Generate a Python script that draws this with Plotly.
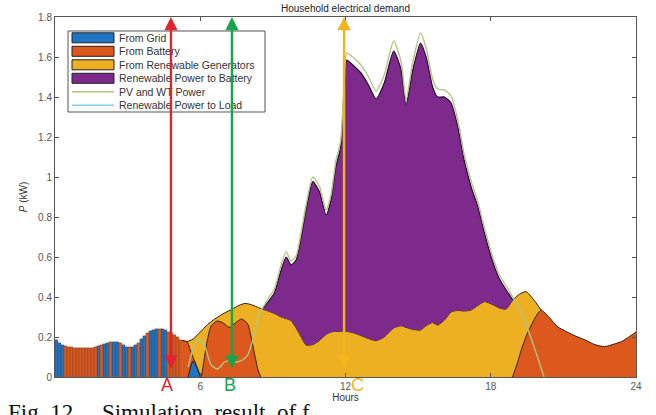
import plotly.graph_objects as go

# ---------------- data ----------------
night_hours = [0.0625, 0.1875, 0.3125, 0.4375, 0.5625, 0.6875, 0.8125, 0.9375,
               1.0625, 1.1875, 1.3125, 1.4375, 1.5625, 1.6875, 1.8125, 1.9375,
               2.0625, 2.1875, 2.3125, 2.4375, 2.5625, 2.6875, 2.8125, 2.9375,
               3.0625, 3.1875, 3.3125, 3.4375, 3.5625, 3.6875, 3.8125, 3.9375,
               4.0625, 4.1875, 4.3125, 4.4375, 4.5625, 4.6875, 4.8125, 4.9375,
               5.0625, 5.1875]
night_load = [0.183, 0.172, 0.162, 0.155, 0.150, 0.148, 0.147, 0.146,
              0.146, 0.146, 0.145, 0.145, 0.146, 0.149, 0.154, 0.160,
              0.166, 0.172, 0.176, 0.177, 0.174, 0.168, 0.160, 0.152,
              0.148, 0.150, 0.158, 0.172, 0.190, 0.207, 0.220, 0.229,
              0.235, 0.239, 0.240, 0.238, 0.233, 0.226, 0.218, 0.208,
              0.198, 0.187]
night_source = list("GGGBBBBBBBBBBBGBGGBGGBGGBGGBGGBGGGBGGBBBBB")

load_morning_hours = [5.25, 5.45, 5.7, 6.0, 6.3, 6.6, 7.0, 7.3, 7.6, 7.85, 8.1, 8.35]
load_morning = [0.182, 0.177, 0.19, 0.225, 0.262, 0.29, 0.32, 0.338, 0.358, 0.368, 0.362, 0.35]

day_hours = [8.6, 8.8, 9.06, 9.34, 9.55, 9.75, 9.96, 10.17, 10.37, 10.65, 10.92,
             11.2, 11.4, 11.6, 11.8, 11.95, 12.05, 12.3, 12.64, 12.95, 13.26, 13.6,
             13.99, 14.3, 14.5, 14.78, 15.1, 15.33, 15.6, 15.8, 16.09, 16.36,
             16.64, 16.9, 17.19, 17.47, 17.74, 18.08, 18.36, 18.64, 18.91]
day_load = [0.338, 0.33, 0.318, 0.30, 0.292, 0.282, 0.245, 0.20, 0.16, 0.162, 0.182,
            0.213, 0.225, 0.228, 0.228, 0.228, 0.228, 0.222, 0.207, 0.192, 0.182, 0.20,
            0.245, 0.256, 0.248, 0.238, 0.235, 0.257, 0.272, 0.26, 0.285, 0.325,
            0.333, 0.33, 0.335, 0.358, 0.377, 0.362, 0.345, 0.34, 0.385]
day_to_battery_top = [0.345, 0.375, 0.42, 0.535, 0.60, 0.56, 0.585, 0.70, 0.835, 0.977, 0.927,
                      0.81, 0.885, 1.05, 1.15, 1.45, 1.585, 1.56, 1.52, 1.46, 1.39, 1.47,
                      1.63, 1.535, 1.36, 1.535, 1.67, 1.60, 1.45, 1.40, 1.40, 1.37,
                      1.25, 1.085, 0.95, 0.85, 0.72, 0.577, 0.49, 0.435, 0.385]
day_pv = [0.35, 0.39, 0.44, 0.56, 0.627, 0.58, 0.605, 0.725, 0.86, 1.0, 0.955,
          0.835, 0.91, 1.08, 1.18, 1.48, 1.62, 1.60, 1.56, 1.50, 1.43, 1.51,
          1.68, 1.575, 1.385, 1.575, 1.72, 1.645, 1.49, 1.44, 1.435, 1.405,
          1.285, 1.115, 0.98, 0.875, 0.745, 0.60, 0.51, 0.455, 0.40]

load_evening_hours = [19.2, 19.46, 19.75, 20.08]
load_evening = [0.415, 0.427, 0.39, 0.335]

pv_morning_hours = [5.5, 5.65, 5.83, 6.0, 6.2, 6.45, 6.72, 7.0, 7.25, 7.48, 7.75, 7.96, 8.17, 8.44]
pv_morning = [0.05, 0.12, 0.177, 0.19, 0.15, 0.06, 0.04, 0.075, 0.08, 0.075, 0.085, 0.11, 0.185, 0.32]
pv_evening_hours = [19.26, 19.6, 19.88, 20.2]
pv_evening = [0.318, 0.218, 0.118, 0.0]

ren_to_load_hours = [5.35, 5.5, 5.65, 5.8]
ren_to_load = [0.0, 0.05, 0.12, 0.17]

battery_morning_hours = [5.25, 5.45, 5.6, 5.75, 5.9, 6.03, 6.15, 6.3, 6.45, 6.7, 6.95,
                         7.2, 7.45, 7.7, 7.95, 8.1, 8.25, 8.4, 8.5]
battery_morning = [0.182, 0.177, 0.13, 0.085, 0.04, 0.0, 0.08, 0.19, 0.255, 0.28, 0.27,
                   0.248, 0.27, 0.29, 0.268, 0.2, 0.11, 0.03, 0.0]

grid_dawn_hours = [5.5, 5.7, 5.85, 6.0]
grid_dawn = [0.0, 0.08, 0.05, 0.0]

battery_evening_hours = [18.9, 19.1, 19.3, 19.5, 19.7, 19.9, 20.08, 20.4, 20.77, 21.05,
                         21.4, 21.9, 22.3, 22.7, 23.1, 23.4, 23.7, 24.0]
battery_evening = [0.0, 0.07, 0.15, 0.215, 0.265, 0.31, 0.335, 0.30, 0.25, 0.232,
                   0.21, 0.185, 0.162, 0.152, 0.165, 0.177, 0.2, 0.225]

arrow_hours = [4.79, 7.31, 11.94]
arrow_labels = ["A", "B", "C"]
arrow_label_hours = [4.62, 7.22, 12.48]
arrow_colors = ["#e0232e", "#17a44b", "#f2b51c"]

x_ticks = [0, 6, 12, 18, 24]
x_ticklabels = ["", "6", "12", "18", "24"]
y_ticks = [0, 0.2, 0.4, 0.6, 0.8, 1.0, 1.2, 1.4, 1.6, 1.8]
y_ticklabels = ["0", "0.2", "0.4", "0.6", "0.8", "1", "1.2", "1.4", "1.6", "1.8"]

legend_labels = ["From Grid", "From Battery", "From Renewable Generators",
                 "Renewable Power to Battery", "PV and WT Power", "Renewable Power to Load"]
legend_kinds = ["patch", "patch", "patch", "patch", "line", "line"]

caption_text = "Fig. 12.&nbsp;&nbsp;&nbsp; Simulation&nbsp; result&nbsp; of f"

# ---------------- styling ----------------
BLUE = "#1f74c4"
ORANGE = "#dc581c"
YELLOW = "#eeb023"
PURPLE = "#7d2a8c"
PV_COL = "#b2c684"
RL_COL = "#7fd2ea"
EDGE = "#2e2010"
FONT = "Liberation Sans, Arial, sans-serif"
SPL = dict(shape="spline", smoothing=0.6)
legend_colors = [BLUE, ORANGE, YELLOW, PURPLE, PV_COL, RL_COL]

# plot area in pixels (for the hand-made MATLAB-like legend)
W, H = 656, 415
ML, MR, MT, MB = 55, 20, 17, 38
PW, PH = W - ML - MR, H - MT - MB


def px(xp):
    return (xp - ML) / PW


def py(yp):
    return (H - MB - yp) / PH


fig = go.Figure()

fig.add_trace(go.Scatter(x=ren_to_load_hours, y=ren_to_load, mode="lines",
                         line=dict(color=RL_COL, width=1.5, **SPL), showlegend=False))

yellow_x = load_morning_hours + day_hours + load_evening_hours
yellow_y = load_morning + day_load + load_evening
fig.add_trace(go.Scatter(x=yellow_x, y=yellow_y, mode="lines", fill="tozeroy",
                         fillcolor=YELLOW, line=dict(color=EDGE, width=1, **SPL), showlegend=False))

gx = [h for h, s in zip(night_hours, night_source) if s == "G"]
gy = [v for v, s in zip(night_load, night_source) if s == "G"]
bx = [h for h, s in zip(night_hours, night_source) if s == "B"]
by = [v for v, s in zip(night_load, night_source) if s == "B"]
fig.add_trace(go.Bar(x=gx, y=gy, width=0.125, showlegend=False,
                     marker=dict(color=BLUE, line=dict(color="#1a1a1a", width=0.3))))
fig.add_trace(go.Bar(x=bx, y=by, width=0.125, showlegend=False,
                     marker=dict(color=ORANGE, line=dict(color="#3a1a08", width=0.3))))

fig.add_trace(go.Scatter(x=battery_morning_hours, y=battery_morning, mode="lines", fill="tozeroy",
                         fillcolor=ORANGE, line=dict(color=EDGE, width=1, **SPL), showlegend=False))
fig.add_trace(go.Scatter(x=grid_dawn_hours, y=grid_dawn, mode="lines", fill="tozeroy",
                         fillcolor=BLUE, line=dict(color=EDGE, width=1, **SPL), showlegend=False))
fig.add_trace(go.Scatter(x=battery_evening_hours, y=battery_evening, mode="lines", fill="tozeroy",
                         fillcolor=ORANGE, line=dict(color=EDGE, width=1, **SPL), showlegend=False))

fig.add_trace(go.Scatter(x=day_hours, y=day_load, mode="lines",
                         line=dict(color="rgba(0,0,0,0)", width=0, **SPL),
                         showlegend=False, hoverinfo="skip"))
fig.add_trace(go.Scatter(x=day_hours, y=day_to_battery_top, mode="lines", fill="tonexty",
                         fillcolor=PURPLE, line=dict(color="#2a0c30", width=1.2, **SPL), showlegend=False))

pv_x = pv_morning_hours + day_hours + pv_evening_hours
pv_y = pv_morning + day_pv + pv_evening
fig.add_trace(go.Scatter(x=pv_x, y=pv_y, mode="lines",
                         line=dict(color=PV_COL, width=1.4, **SPL), showlegend=False))

# ---- legend (MATLAB style) ----
shapes = [dict(type="rect", xref="paper", yref="paper", x0=px(68), x1=px(265), y0=py(112), y1=py(31),
               fillcolor="white", line=dict(color="#555", width=1), layer="above")]
annotations = []
for i, (lab, kind, col) in enumerate(zip(legend_labels, legend_kinds, legend_colors)):
    yc = 37.8 + 13.5 * i
    if kind == "patch":
        shapes.append(dict(type="rect", xref="paper", yref="paper", x0=px(72), x1=px(114),
                           y0=py(yc + 5), y1=py(yc - 5), fillcolor=col,
                           line=dict(color="#222", width=1), layer="above"))
    else:
        shapes.append(dict(type="line", xref="paper", yref="paper", x0=px(72), x1=px(114),
                           y0=py(yc), y1=py(yc), line=dict(color=col, width=1.4), layer="above"))
    annotations.append(dict(x=px(117), y=py(yc), xref="paper", yref="paper", xanchor="left",
                            yanchor="middle", text=lab, showarrow=False,
                            font=dict(family=FONT, size=10.5, color="#333")))

# arrows
for h, col in zip(arrow_hours, arrow_colors):
    annotations.append(dict(x=h, y=1.8, ax=h, ay=0.035, xref="x", yref="y", axref="x", ayref="y",
                            text="", showarrow=True, arrowhead=2, startarrowhead=2, arrowside="end+start",
                            arrowsize=1.1, startarrowsize=1.1, arrowwidth=2.4, arrowcolor=col,
                            standoff=0, startstandoff=0))
for h, lab, col in zip(arrow_label_hours, arrow_labels, arrow_colors):
    annotations.append(dict(x=h, y=py(385), xref="x", yref="paper", text=lab, showarrow=False,
                            font=dict(family=FONT, size=18, color=col), yanchor="middle"))

# caption (cut by the page bottom in the reference)
annotations.append(dict(x=px(6), y=py(398), xref="paper", yref="paper", xanchor="left", yanchor="top",
                        text=caption_text, showarrow=False,
                        font=dict(family="Liberation Serif, Times New Roman, serif", size=23, color="#111")))

axis_common = dict(showgrid=False, zeroline=False, showline=True, linecolor="#555", linewidth=1,
                   mirror="ticks", ticks="inside", ticklen=4, tickcolor="#555", automargin=False,
                   tickfont=dict(family=FONT, size=10, color="#555"))

fig.update_layout(
    width=W, height=H,
    margin=dict(l=ML, r=MR, t=MT, b=MB, autoexpand=False),
    paper_bgcolor="white", plot_bgcolor="white",
    barmode="overlay", bargap=0,
    title=dict(text="Household electrical demand", xref="paper", x=0.5, xanchor="center",
               yref="container", y=1 - 8 / H, yanchor="middle",
               font=dict(family=FONT, size=10, color="#222")),
    xaxis=dict(range=[0, 24], tickvals=x_ticks, ticktext=x_ticklabels,
               title=dict(text="Hours", standoff=2, font=dict(family=FONT, size=10, color="#333")),
               **axis_common),
    yaxis=dict(range=[0, 1.8], tickvals=y_ticks, ticktext=y_ticklabels,
               title=dict(text="<i>P</i> (kW)", standoff=8, font=dict(family=FONT, size=10, color="#333")),
               **axis_common),
    shapes=shapes,
    annotations=annotations,
    showlegend=False,
)

fig.write_html("out.html", config={"displayModeBar": False},
               post_script="document.body.style.margin='0';document.body.style.overflow='hidden';")
